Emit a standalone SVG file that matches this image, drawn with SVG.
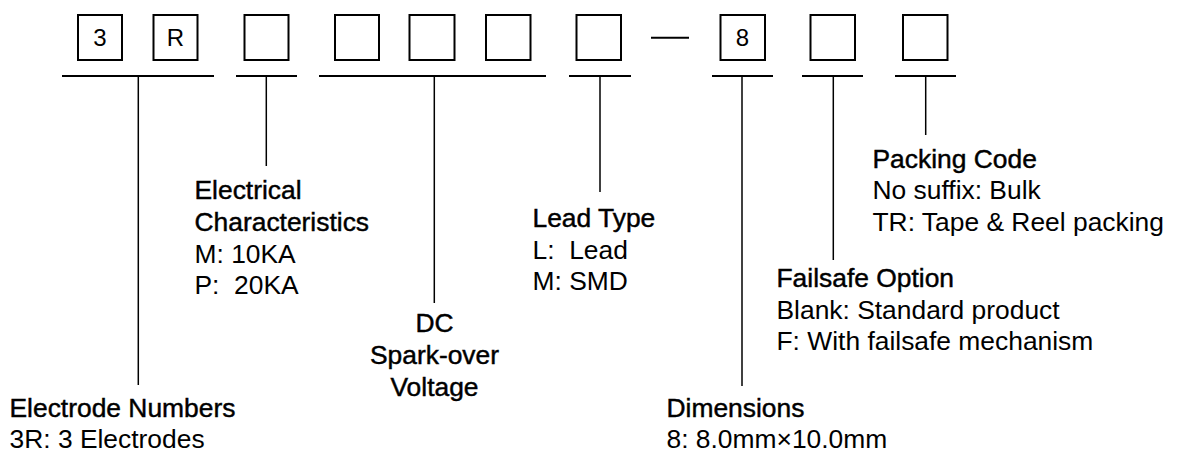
<svg xmlns="http://www.w3.org/2000/svg" width="1177" height="452" viewBox="0 0 1177 452">
<style>
.box{fill:#fff;stroke:#000;stroke-width:2}
.bt{font-family:"Liberation Sans",Arial,sans-serif;font-size:24px;fill:#000;text-anchor:middle}
.bar{stroke:#000;stroke-width:2;fill:none}
.lead{stroke:#000;stroke-width:1.5;fill:none}
.t{font-family:"Liberation Sans",Arial,sans-serif;font-size:26.4px;fill:#000;white-space:pre}
.h{stroke:#000;stroke-width:0.45}
.c{text-anchor:middle}
</style>
<rect width="1177" height="452" fill="#fff"/>
<g id="code">
<g id="box1"><rect class="box" x="78" y="15" width="44" height="45"/><text class="bt" x="100" y="46">3</text></g>
<g id="box2"><rect class="box" x="153.5" y="15" width="44" height="45"/><text class="bt" x="175.5" y="46">R</text></g>
<g id="box3"><rect class="box" x="244.5" y="15" width="44" height="45"/></g>
<g id="box4"><rect class="box" x="335" y="15" width="44" height="45"/></g>
<g id="box5"><rect class="box" x="409.5" y="15" width="45" height="45"/></g>
<g id="box6"><rect class="box" x="486" y="15" width="44.5" height="45"/></g>
<g id="box7"><rect class="box" x="576.5" y="15" width="44.5" height="45"/></g>
<g id="dash"><line class="bar" x1="651" y1="37.7" x2="689" y2="37.7"/></g>
<g id="box8"><rect class="box" x="720.5" y="15" width="44.5" height="45"/><text class="bt" x="742.5" y="46">8</text></g>
<g id="box9"><rect class="box" x="810.5" y="15" width="44.5" height="45"/></g>
<g id="box10"><rect class="box" x="903" y="15" width="44.5" height="45"/></g>
</g>
<g id="connectors">
<line class="bar" x1="62" y1="76" x2="214" y2="76"/>
<line class="lead" x1="138.3" y1="76" x2="138.3" y2="385"/>
<line class="bar" x1="236" y1="76" x2="297" y2="76"/>
<line class="lead" x1="266.3" y1="76" x2="266.3" y2="166"/>
<line class="bar" x1="319" y1="76" x2="546" y2="76"/>
<line class="lead" x1="434.3" y1="76" x2="434.3" y2="303"/>
<line class="bar" x1="569" y1="76" x2="631" y2="76"/>
<line class="lead" x1="600" y1="76" x2="600" y2="192"/>
<line class="bar" x1="712" y1="76" x2="773" y2="76"/>
<line class="lead" x1="742" y1="76" x2="742" y2="386"/>
<line class="bar" x1="802" y1="76" x2="863" y2="76"/>
<line class="lead" x1="833.3" y1="76" x2="833.3" y2="260"/>
<line class="bar" x1="895" y1="76" x2="956" y2="76"/>
<line class="lead" x1="925.7" y1="76" x2="925.7" y2="135"/>
</g>
<g id="electrode">
<text class="t h" x="9.5" y="416.5">Electrode Numbers</text>
<text class="t" x="9.5" y="448">3R: 3 Electrodes</text>
</g>
<g id="electrical">
<text class="t h" x="194.5" y="199">Electrical</text>
<text class="t h" x="194.5" y="231">Characteristics</text>
<text class="t" x="194.5" y="262.7">M: 10KA</text>
<text class="t" x="194.5" y="294.3" xml:space="preserve">P:  20KA</text>
</g>
<g id="dcvoltage">
<text class="t h c" x="434.5" y="332.3">DC</text>
<text class="t h c" x="434.5" y="364">Spark-over</text>
<text class="t h c" x="434.5" y="395.7">Voltage</text>
</g>
<g id="leadtype">
<text class="t h" x="532.5" y="227">Lead Type</text>
<text class="t" x="532.5" y="258.7" xml:space="preserve">L:  Lead</text>
<text class="t" x="532.5" y="290.3">M: SMD</text>
</g>
<g id="dimensions">
<text class="t h" x="666.5" y="416.5">Dimensions</text>
<text class="t" x="666.5" y="448">8: 8.0mm×10.0mm</text>
</g>
<g id="failsafe">
<text class="t h" x="776.5" y="287">Failsafe Option</text>
<text class="t" x="776.5" y="318.7">Blank: Standard product</text>
<text class="t" x="776.5" y="350.4">F: With failsafe mechanism</text>
</g>
<g id="packing">
<text class="t h" x="872.5" y="167.7">Packing Code</text>
<text class="t" x="872.5" y="199.4">No suffix: Bulk</text>
<text class="t" x="872.5" y="231">TR: Tape &amp; Reel packing</text>
</g>
</svg>
